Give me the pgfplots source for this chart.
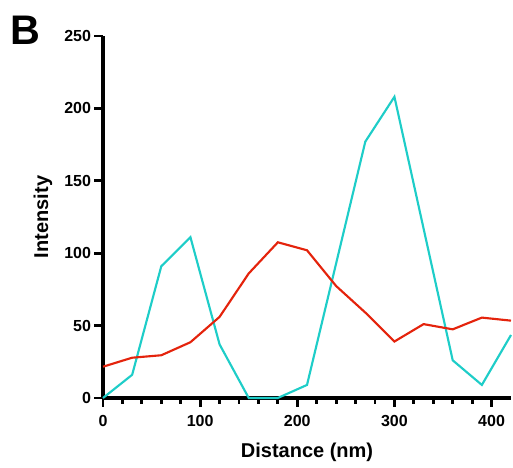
\documentclass[border=0pt]{standalone}
\usepackage{pgfplots}
\pgfplotsset{compat=1.18}
\usepackage{fontspec}
\setmainfont{Liberation Sans}
\definecolor{cyanline}{RGB}{30,205,200}
\definecolor{redline}{RGB}{228,35,12}
\begin{document}
\begin{tikzpicture}
\begin{axis}[
  scale only axis,
  width=306pt, height=271.5pt,
  xmin=0, xmax=420, ymin=0, ymax=250,
  axis x line*=bottom, axis y line*=left,
  axis line style={line width=2.6pt, -},
  tick style={black, line width=2.2pt},
  tick align=outside,
  major tick length=6.5pt,
  minor tick length=4.5pt,
  xtick={0,100,200,300,400},
  minor x tick num=4,
  ytick={0,50,100,150,200,250},
  /pgf/number format/assume math mode=true,
  ticklabel style={font=\bfseries\fontsize{12}{14}\selectfont},
  yticklabel style={xshift=1pt},
  xticklabel style={yshift=-3pt},
  xlabel={Distance (nm)}, ylabel={Intensity},
  label style={font=\bfseries\fontsize{15}{17}\selectfont},
  xlabel style={at={(rel axis cs:0.5,-0.149)}, anchor=center},
  ylabel style={at={(rel axis cs:-0.147,0.5)}, anchor=center},
  clip=false,
]
\addplot[cyanline, line width=1.6pt] coordinates {
(0,0) (30,16) (60,91) (90,111) (120,37) (150,0) (180,0) (210,9)
(240,93) (270,177) (300,208) (330,117) (360,26) (390,9) (420,43.5)
};
\addplot[redline, line width=1.6pt] coordinates {
(0,21.6) (30,27.8) (60,29.5) (90,38.5) (120,56) (150,86) (180,107.5) (210,102)
(240,77.3) (270,59) (300,39) (330,51) (360,47.4) (390,55.5) (420,53.4)
};
\node[font=\bfseries\fontsize{31}{34}\selectfont] at (rel axis cs:-0.191,1.0166) {B};
\coordinate (bl) at (rel axis cs:-0.2525,-0.1934);
\coordinate (tr) at (rel axis cs:1.0049,1.0994);
\end{axis}
\pgfresetboundingbox
\path[use as bounding box] (bl) rectangle (tr);
\end{tikzpicture}
\end{document}
